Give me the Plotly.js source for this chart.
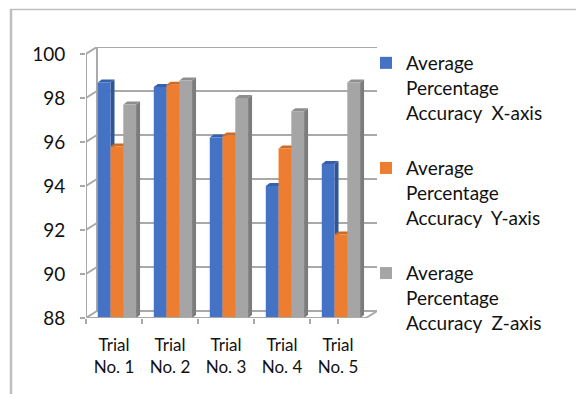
<!DOCTYPE html>
<html><head><meta charset="utf-8">
<script src="https://cdn.plot.ly/plotly-3.0.1.min.js"></script>
<style>html,body{margin:0;padding:0;background:#fff}</style>
</head><body><div id="chart" style="width:576px;height:394px"></div>
<script>
// ---- data ----
const categories = ['Trial No. 1', 'Trial No. 2', 'Trial No. 3', 'Trial No. 4', 'Trial No. 5'];
const tickLabels = ['Trial<br>No. 1', 'Trial<br>No. 2', 'Trial<br>No. 3', 'Trial<br>No. 4', 'Trial<br>No. 5'];
const accuracyX = [98.7, 98.5, 96.2, 94.0, 95.0];
const accuracyY = [95.8, 98.6, 96.3, 95.7, 91.8];
const accuracyZ = [97.7, 98.8, 98.0, 97.4, 98.7];
const seriesNames = [
  'Average<br>Percentage<br>Accuracy\u00a0 X-axis',
  'Average<br>Percentage<br>Accuracy\u00a0 Y-axis',
  'Average<br>Percentage<br>Accuracy\u00a0 Z-axis'
];
const yTickVals = [88, 90, 92, 94, 96, 98, 100];

// ---- styling / geometry ----
const W = 576, H = 394;
const M = {l: 86, r: 199, t: 47, b: 76};
const X0 = -0.5, X1 = categories.length - 0.5;
const DX = 0.196, DY = 0.318;     // wall depth (data units)
const ddx = 0.071, ddy = 0.136;   // bar depth (data units)
const Y0 = 88, Y1 = 100;
const frontColors = ['#4472C4', '#ED7D31', '#A5A5A5'];
const sideColors  = ['#2F5597', '#B45A1E', '#7C7C7C'];
const topColors   = ['#3560AE', '#CF6A26', '#8E8E8E'];
const offsets = [-0.29, -0.062, 0.166];
const barW = 0.228;
const wallColor = '#A9A9A9';
const FONT = 'Lato, "Open Sans", sans-serif';

const series = [accuracyX, accuracyY, accuracyZ];
const xIdx = categories.map((c, i) => i);

const pw = W - M.l - M.r, ph = H - M.t - M.b;
const px = p => (p - M.l) / pw;
const py = p => (H - M.b - p) / ph;

const traces = series.map((vals, i) => ({
  type: 'bar', x: xIdx, y: vals, name: seriesNames[i],
  legendgroup: 'g' + i,
  offset: offsets[i], width: barW,
  marker: {color: frontColors[i], line: {width: 0}},
  hoverinfo: 'skip'
}));

const shapes = [];
const line = (x0, y0, x1, y1, layer, w) => ({
  type: 'line', xref: 'x', yref: 'y', x0, y0, x1, y1, layer: layer || 'below',
  line: {color: wallColor, width: w || 2}
});
// walls: back gridlines + side wall diagonals
yTickVals.forEach(v => {
  shapes.push(line(X0 + DX, v + DY, X1 + DX, v + DY));
  shapes.push(line(X0, v, X0 + DX, v + DY));
});
shapes.push(line(X0 + DX, Y0 + DY, X0 + DX, Y1 + DY));
shapes.push(line(X0, Y0, X0, Y1, 'above'));
shapes.push(line(X0, Y0, X1, Y0, 'above'));
shapes.push(line(X1, Y0, X1 + DX, Y0 + DY, 'above'));

// bar 3D faces
xIdx.forEach(j => {
  series.forEach((vals, i) => {
    const v = vals[j];
    const left = j + offsets[i], right = left + barW;
    shapes.push({type: 'path', xref: 'x', yref: 'y', layer: 'between',
      path: `M${right},${Y0} L${right},${v} L${right + ddx},${v + ddy} L${right + ddx},${Y0 + ddy} Z`,
      fillcolor: sideColors[i], line: {width: 0}});
    shapes.push({type: 'path', xref: 'x', yref: 'y', layer: 'between',
      path: `M${left},${v} L${right},${v} L${right + ddx},${v + ddy} L${left + ddx},${v + ddy} Z`,
      fillcolor: topColors[i], line: {width: 0}});
  });
});

// outer frame
shapes.push({type: 'line', xref: 'paper', yref: 'paper', x0: px(10), x1: px(576), y0: py(9.5), y1: py(9.5),
  line: {color: '#BFBFBF', width: 1.5}});
shapes.push({type: 'line', xref: 'paper', yref: 'paper', x0: px(11), x1: px(11), y0: py(9), y1: py(394),
  line: {color: '#BFBFBF', width: 2.5}});

const layout = {
  width: W, height: H, margin: M,
  paper_bgcolor: '#fff', plot_bgcolor: 'rgba(0,0,0,0)',
  barmode: 'overlay',
  showlegend: true,
  font: {family: FONT, color: '#111'},
  xaxis: {
    range: [X0, X1 + DX], showgrid: false, zeroline: false, showline: false,
    tickvals: xIdx, ticktext: tickLabels, ticks: '',
    ticklabelstandoff: 15,
    tickfont: {family: FONT, size: 17, color: '#111'},
    minor: {tickvals: xIdx.concat([X1]).map(i => i - 0.5), ticks: 'outside', ticklen: 5, tickwidth: 2, tickcolor: wallColor, showgrid: false},
    fixedrange: true
  },
  yaxis: {
    range: [Y0, Y1 + DY], showgrid: false, zeroline: false, showline: false,
    tickvals: yTickVals, ticks: 'outside', ticklen: 5, tickwidth: 2, tickcolor: wallColor,
    tickfont: {family: FONT, size: 19, color: '#111'},
    ticklabelstandoff: 11,
    fixedrange: true
  },
  legend: {
    x: px(366), y: py(44), xanchor: 'left', yanchor: 'top',
    traceorder: 'grouped', tracegroupgap: 28, valign: 'top',
    maxheight: 380,
    font: {family: FONT, size: 19, color: '#111'},
    bgcolor: 'rgba(0,0,0,0)'
  },
  shapes: shapes
};

Plotly.newPlot('chart', traces, layout, {displayModeBar: false, staticPlot: true});
</script>
</body></html>
